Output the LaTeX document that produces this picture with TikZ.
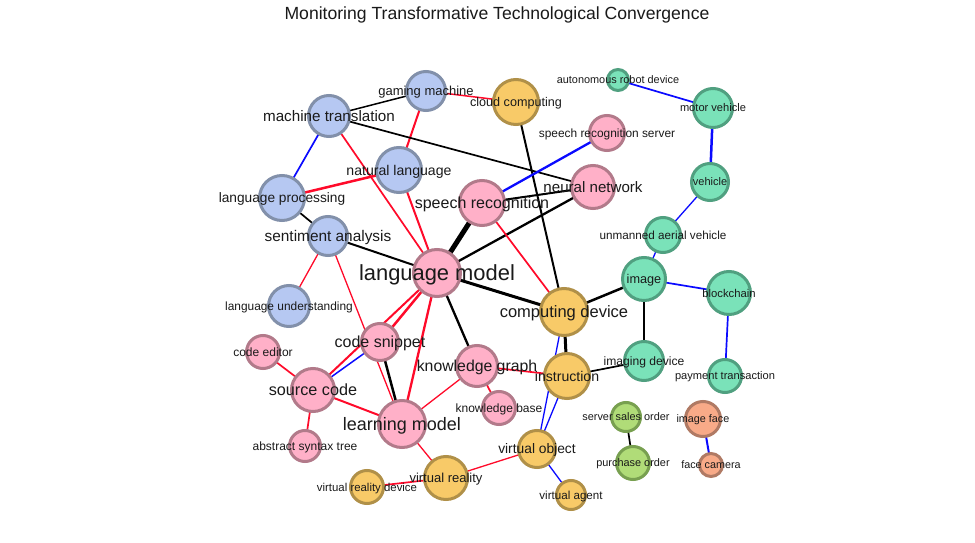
\documentclass[tikz,border=0pt]{standalone}
\usepackage{fontspec}
\setmainfont{Liberation Sans}
\usetikzlibrary{backgrounds}
\definecolor{bfill}{HTML}{B6C8F2}
\definecolor{bdraw}{HTML}{8290AA}
\definecolor{pfill}{HTML}{FFB0C8}
\definecolor{pdraw}{HTML}{B27A8A}
\definecolor{yfill}{HTML}{F8CA68}
\definecolor{ydraw}{HTML}{B09048}
\definecolor{gfill}{HTML}{7AE2B9}
\definecolor{gdraw}{HTML}{50A080}
\definecolor{lgfill}{HTML}{B0DC78}
\definecolor{lgdraw}{HTML}{78A050}
\definecolor{sfill}{HTML}{F8AA88}
\definecolor{sdraw}{HTML}{B07A64}
\definecolor{ered}{HTML}{FF0A2A}
\definecolor{eblue}{HTML}{0A0AFF}
\definecolor{txt}{HTML}{1A1A1A}
\tikzset{
  circ/.style={circle,inner sep=0pt,line width=3pt},
  bn/.style={circ,fill=bfill,draw=bdraw},
  pn/.style={circ,fill=pfill,draw=pdraw},
  yn/.style={circ,fill=yfill,draw=ydraw},
  gn/.style={circ,fill=gfill,draw=gdraw},
  lgn/.style={circ,fill=lgfill,draw=lgdraw},
  sn/.style={circ,fill=sfill,draw=sdraw},
  lbl/.style={inner sep=0pt,text=txt,text depth=0pt},
  re/.style={draw=ered,line width=#1},
  be/.style={draw=eblue,line width=#1},
  ke/.style={draw=black,line width=#1},
}
\newcommand\mylab[3]{\node[lbl,font=\fontsize{#2}{#2}\selectfont,text height={0.72*#2}] (#1-t) at (#1) {#3};}
\newcommand\myedge[3]{\draw[#1] (#2.center) -- (#3.center);}
\begin{document}
\begin{tikzpicture}[x=1pt,y=-1pt]
\useasboundingbox (0,0) rectangle (975,543);
% nodes
\node[bn,minimum size=41pt] (mt) at (329,116) {};
\node[bn,minimum size=39pt] (gm) at (426,91) {};
\node[bn,minimum size=45pt] (nl) at (399,170) {};
\node[bn,minimum size=45pt] (lp) at (282,198) {};
\node[bn,minimum size=39pt] (sa) at (328,236) {};
\node[bn,minimum size=41pt] (lu) at (289,306) {};
\node[yn,minimum size=45pt] (cc) at (516,102) {};
\node[pn,minimum size=35pt] (srs) at (607,133) {};
\node[pn,minimum size=45pt] (sr) at (482,203) {};
\node[pn,minimum size=43pt] (nn) at (593,187) {};
\node[pn,minimum size=47pt] (lm) at (437,273) {};
\node[pn,minimum size=37pt] (cs) at (380,342) {};
\node[pn,minimum size=33pt] (ce) at (263,352) {};
\node[pn,minimum size=41pt] (kg) at (477,366) {};
\node[pn,minimum size=43pt] (sc) at (313,390) {};
\node[pn,minimum size=33pt] (kb) at (499,408) {};
\node[pn,minimum size=47pt] (lmb) at (402,424) {};
\node[pn,minimum size=31pt] (ast) at (305,446) {};
\node[yn,minimum size=43pt] (vr) at (446,478) {};
\node[yn,minimum size=33pt] (vrd) at (367,487) {};
\node[yn,minimum size=47pt] (cd) at (564,312) {};
\node[yn,minimum size=45pt] (ins) at (567,376) {};
\node[yn,minimum size=37pt] (vo) at (537,449) {};
\node[yn,minimum size=29pt] (va) at (571,495) {};
\node[gn,minimum size=21pt] (ard) at (618,80) {};
\node[gn,minimum size=39pt] (mv) at (713,108) {};
\node[gn,minimum size=37pt] (ve) at (710,182) {};
\node[gn,minimum size=35pt] (uav) at (663,235) {};
\node[gn,minimum size=43pt] (im) at (644,279) {};
\node[gn,minimum size=43pt] (bc) at (729,293) {};
\node[gn,minimum size=39pt] (imd) at (644,361) {};
\node[gn,minimum size=33pt] (pt) at (725,376) {};
\node[lgn,minimum size=29pt] (sso) at (626,417) {};
\node[lgn,minimum size=33pt] (po) at (633,463) {};
\node[sn,minimum size=35pt] (ifc) at (703,419) {};
\node[sn,minimum size=23pt] (fc) at (711,465) {};
% edges
\begin{pgfonlayer}{background}
\fill[white] (0,0) rectangle (975,543);
\myedge{ke=1.5pt}{mt}{gm}
\myedge{re=1.5pt}{gm}{cc}
\myedge{re=2pt}{gm}{nl}
\myedge{be=1.7pt}{mt}{lp}
\myedge{ke=1.7pt}{mt}{nn}
\myedge{re=1.7pt}{mt}{lm}
\myedge{re=2.5pt}{nl}{lp}
\myedge{re=2pt}{nl}{lm}
\myedge{ke=1.7pt}{lp}{sa}
\myedge{ke=2pt}{sa}{lm}
\myedge{ke=5pt}{sr}{lm}
\myedge{ke=2pt}{cc}{cd}
\myedge{be=1.7pt}{ard}{mv}
\myedge{be=2.5pt}{mv}{ve}
\myedge{be=1.3pt}{ve}{uav}
\myedge{be=1.3pt}{uav}{im}
\myedge{be=2.3pt}{srs}{sr}
\myedge{ke=2pt}{nn}{sr}
\myedge{ke=2.3pt}{nn}{lm}
\myedge{re=1.7pt}{sr}{cd}
\myedge{re=1.3pt}{sa}{lu}
\myedge{re=1.3pt}{sa}{lmb}
\myedge{re=2.5pt}{lm}{cs}
\myedge{re=2pt}{lm}{sc}
\myedge{be=1.5pt}{cs}{sc}
\myedge{re=2.3pt}{lm}{lmb}
\myedge{ke=2.5pt}{cs}{lmb}
\myedge{ke=2.3pt}{lm}{kg}
\myedge{re=1.3pt}{kg}{lmb}
\myedge{re=1.7pt}{kg}{kb}
\myedge{re=1.7pt}{kg}{ins}
\myedge{re=1.7pt}{sc}{ce}
\myedge{re=2pt}{sc}{lmb}
\myedge{re=1.7pt}{sc}{ast}
\myedge{re=1.3pt}{lmb}{vr}
\myedge{re=1.7pt}{vr}{vrd}
\myedge{re=1.3pt}{vr}{vo}
\myedge{ke=3pt}{lm}{cd}
\myedge{ke=2.5pt}{cd}{im}
\myedge{be=1.7pt}{im}{bc}
\myedge{ke=2.5pt}{im}{imd}
\myedge{be=1.7pt}{bc}{pt}
\myedge{ke=3pt}{cd}{ins}
\myedge{be=1.3pt}{cd}{vo}
\myedge{be=1.3pt}{ins}{vo}
\myedge{ke=1.7pt}{ins}{imd}
\myedge{be=1.3pt}{vo}{va}
\myedge{ke=1.7pt}{sso}{po}
\myedge{be=2pt}{ifc}{fc}
\end{pgfonlayer}
% labels
\mylab{mt}{15.2}{machine translation}
\mylab{gm}{13}{gaming machine}
\mylab{nl}{14.1}{natural language}
\mylab{lp}{13.7}{language processing}
\mylab{sa}{15.4}{sentiment analysis}
\mylab{lu}{11.9}{language understanding}
\mylab{cc}{12.6}{cloud computing}
\mylab{srs}{11.9}{speech recognition server}
\mylab{sr}{16}{speech recognition}
\mylab{nn}{15.1}{neural network}
\mylab{lm}{21.9}{language model}
\mylab{cs}{16}{code snippet}
\mylab{ce}{12}{code editor}
\mylab{kg}{15.8}{knowledge graph}
\mylab{sc}{16.2}{source code}
\mylab{kb}{12}{knowledge base}
\mylab{lmb}{18}{learning model}
\mylab{ast}{12}{abstract syntax tree}
\mylab{vr}{13}{virtual reality}
\mylab{vrd}{11.4}{virtual reality device}
\mylab{cd}{16.5}{computing device}
\mylab{ins}{14.1}{instruction}
\mylab{vo}{13.8}{virtual object}
\mylab{va}{11.6}{virtual agent}
\mylab{ard}{10.9}{autonomous robot device}
\mylab{mv}{11.1}{motor vehicle}
\mylab{ve}{11}{vehicle}
\mylab{uav}{11.7}{unmanned aerial vehicle}
\mylab{im}{12.7}{image}
\mylab{bc}{11.3}{blockchain}
\mylab{imd}{12.1}{imaging device}
\mylab{pt}{11.1}{payment transaction}
\mylab{sso}{10.9}{server sales order}
\mylab{po}{10.9}{purchase order}
\mylab{ifc}{10.8}{image face}
\mylab{fc}{10.8}{face camera}
% title
\node[inner sep=0pt,anchor=base,text=txt,font=\fontsize{17.6}{17.6}\selectfont] (title) at (497,20) {Monitoring Transformative Technological Convergence};
\end{tikzpicture}
\end{document}
